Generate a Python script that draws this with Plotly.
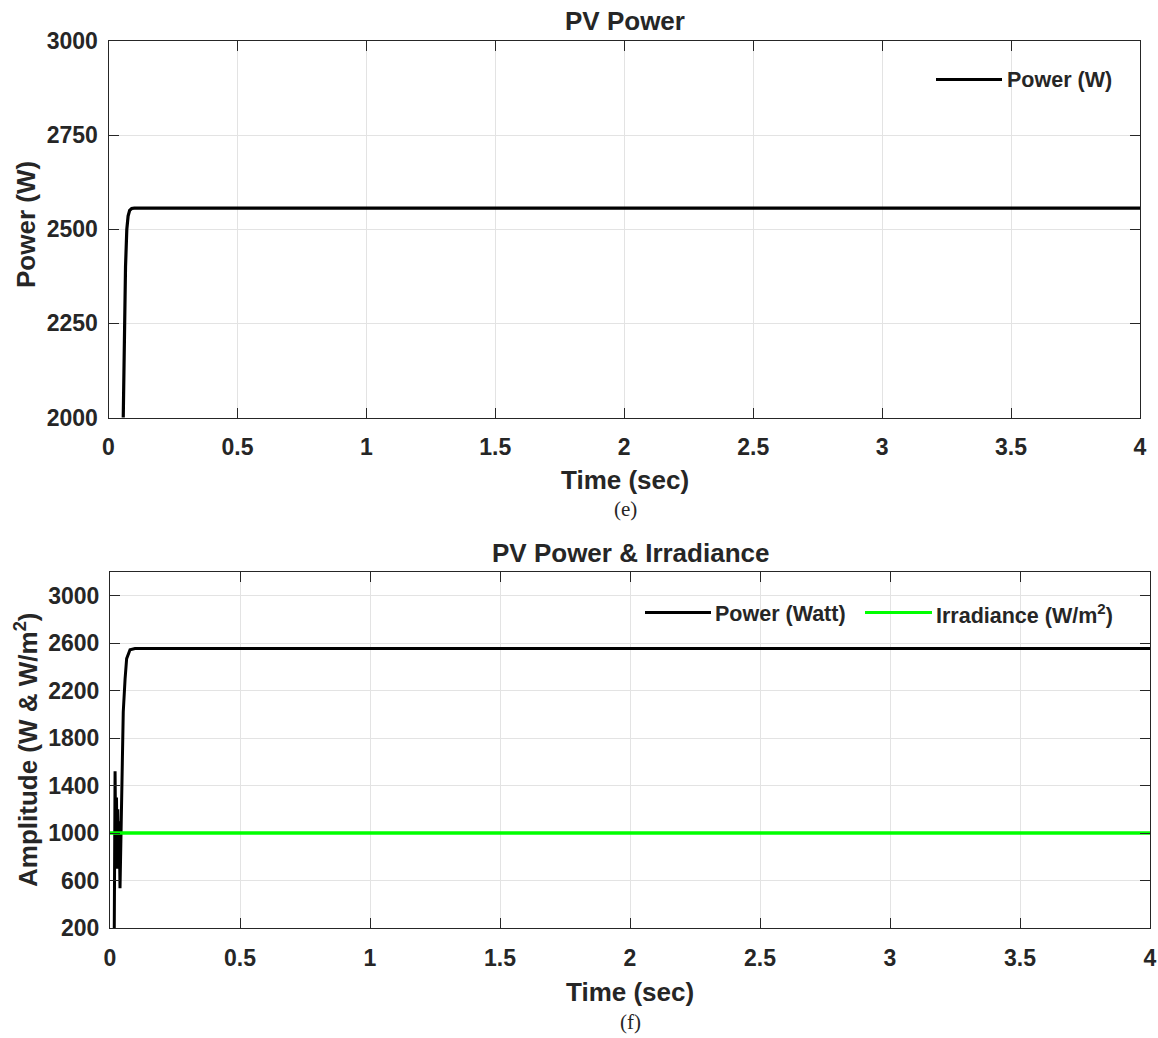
import plotly.graph_objects as go

# ---------------- data ----------------
# (e) PV power
time_e = [0.055, 0.057, 0.060, 0.062, 0.066, 0.071, 0.076, 0.082, 0.090, 0.100, 0.5, 1.0, 2.0, 3.0, 4.0]
power_e = [1900, 2000, 2150, 2255, 2400, 2500, 2535, 2550, 2555, 2556, 2556, 2556, 2556, 2556, 2556]

# (f) PV power & irradiance
time_f = [0.0160, 0.0195, 0.0225, 0.0250, 0.0275, 0.0300, 0.0325, 0.0350, 0.0385, 0.0450, 0.0510,
          0.0580, 0.0640, 0.0770, 0.0960, 0.5, 1.0, 2.0, 3.0, 4.0]
power_f = [0, 1520, 750, 1300, 700, 1200, 800, 1100, 535, 1400, 2020,
           2300, 2470, 2545, 2555, 2555, 2555, 2555, 2555, 2555]
time_irr = [0.0, 4.0]
irradiance = [1000, 1000]

x_ticks = [0, 0.5, 1, 1.5, 2, 2.5, 3, 3.5, 4]
x_ticklabels = ["0", "0.5", "1", "1.5", "2", "2.5", "3", "3.5", "4"]
y_ticks_e = [2000, 2250, 2500, 2750, 3000]
y_ticks_f = [200, 600, 1000, 1400, 1800, 2200, 2600, 3000]

# ---------------- figure ----------------
W, H = 1158, 1038
TXT = "#262626"
FONT = "Liberation Sans"

fig = go.Figure()
fig.add_trace(go.Scatter(x=time_e, y=power_e, mode="lines", name="Power (W)",
                         line=dict(color="black", width=3.2), xaxis="x", yaxis="y",
                         showlegend=False))
fig.add_trace(go.Scatter(x=time_f, y=power_f, mode="lines", name="Power (Watt)",
                         line=dict(color="black", width=3), xaxis="x2", yaxis="y2",
                         showlegend=False))
fig.add_trace(go.Scatter(x=time_irr, y=irradiance, mode="lines", name="Irradiance (W/m<sup>2</sup>)",
                         line=dict(color="#00ff00", width=3.5), xaxis="x2", yaxis="y2",
                         showlegend=False))

def px(x):
    return x / W

def py(y):
    return 1 - y / H

axis_common = dict(
    showline=True, linecolor=TXT, linewidth=1, mirror="ticks",
    ticks="inside", ticklen=10, tickcolor=TXT, tickwidth=1,
    showgrid=True, gridcolor="#e3e3e3", gridwidth=1,
    zeroline=False, automargin=False,
    tickfont=dict(family=FONT, size=23, color=TXT, weight="bold"),
)

fig.update_layout(
    width=W, height=H,
    margin=dict(l=0, r=0, t=0, b=0, autoexpand=False),
    paper_bgcolor="white", plot_bgcolor="white",
    showlegend=False,
    xaxis=dict(domain=[px(108.5), px(1140)], range=[0, 4], anchor="y",
               tickvals=x_ticks, ticktext=x_ticklabels, ticklabelstandoff=9, **axis_common),
    yaxis=dict(domain=[py(417.5), py(41)], range=[2000, 3000], anchor="x",
               tickvals=y_ticks_e, ticktext=[str(v) for v in y_ticks_e], ticklabelstandoff=5,
               **axis_common),
    xaxis2=dict(domain=[px(110), px(1150)], range=[0, 4], anchor="y2",
                tickvals=x_ticks, ticktext=x_ticklabels, ticklabelstandoff=9, **axis_common),
    yaxis2=dict(domain=[py(928), py(572)], range=[200, 3200], anchor="x2",
                tickvals=y_ticks_f, ticktext=[str(v) for v in y_ticks_f], ticklabelstandoff=5,
                **axis_common),
)

def ann(text, x, y, size, angle=0, family=FONT, weight="bold", xanchor="center"):
    fig.add_annotation(text=text, x=px(x), y=py(y), xref="paper", yref="paper",
                       showarrow=False, textangle=angle, xanchor=xanchor, yanchor="middle",
                       font=dict(family=family, size=size, color=TXT, weight=weight))

# titles, axis titles, captions
ann("PV Power", 625, 21, 26)
ann("Time (sec)", 625, 480, 26)
ann("(e)", 625, 509, 21, family="Liberation Serif", weight="normal")
ann("Power (W)", 26, 225, 26, angle=-90)

ann("PV Power & Irradiance", 630, 553, 26)
ann("Time (sec)", 630, 992, 26)
ann("(f)", 630, 1022, 21, family="Liberation Serif", weight="normal")
ann("Amplitude (W & W/m<sup>2</sup>)", 26, 750, 26, angle=-90)

# legends (drawn as line samples + labels)
def legend_item(x0, x1, y, color, label, tx):
    fig.add_shape(type="line", xref="paper", yref="paper",
                  x0=px(x0), x1=px(x1), y0=py(y), y1=py(y),
                  line=dict(color=color, width=3))
    ann(label, tx, y + 1, 21.5, xanchor="left")

legend_item(936, 1002, 79.5, "black", "Power (W)", 1005)
legend_item(645, 711, 612.5, "black", "Power (Watt)", 713)
legend_item(865, 932, 612.5, "#00ff00", "Irradiance (W/m<sup>2</sup>)", 934)

fig.write_html("out.html",
               config={"displayModeBar": False},
               post_script="document.body.style.margin='0';document.body.style.overflow='hidden';")
